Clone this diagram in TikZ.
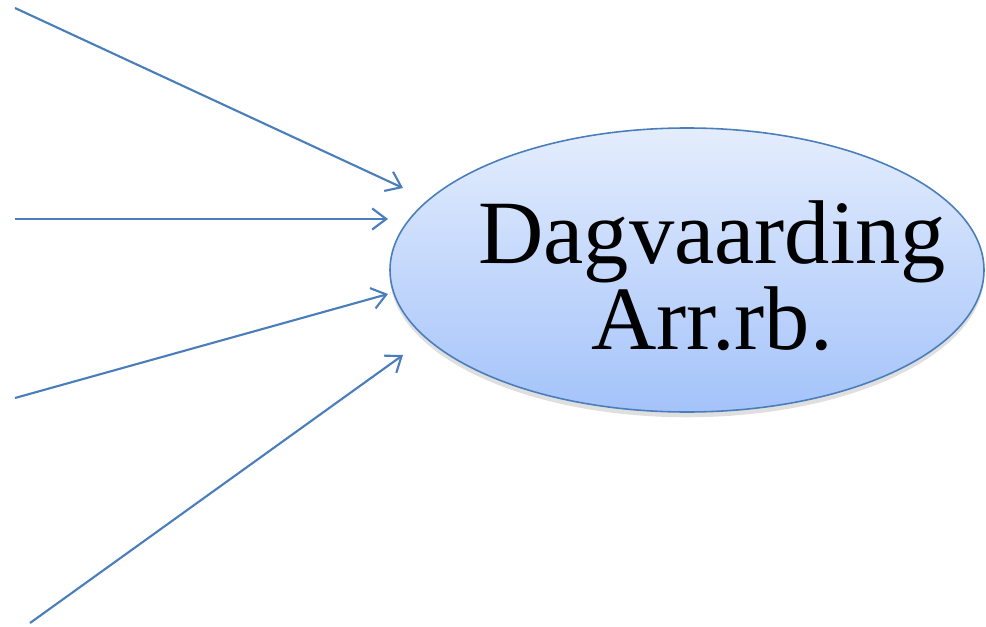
\documentclass[tikz,border=0pt]{standalone}
\usepackage{fontspec}
\setmainfont{Liberation Serif}
\usepackage{tikz}
\usetikzlibrary{arrows.meta,positioning,shapes,shadows,backgrounds}

\definecolor{lijnblauw}{HTML}{4A7EBB}
\definecolor{vultop}{HTML}{E4EDFD}
\definecolor{vulbodem}{HTML}{A4C3FA}

\begin{document}
\begin{tikzpicture}%[x=0.02cm]
		\tikzset{pijl/.style={draw=lijnblauw,line width=1.2pt,-{Straight Barb[length=8pt,width=12pt,line width=1.2pt]}}}
		\tikzset{procesbol/.style={ellipse,draw=lijnblauw,line width=0.9pt,top color=vultop,bottom color=vulbodem,
				minimum width=11.88cm,minimum height=5.68cm,
				drop shadow={opacity=0.25,shadow xshift=0pt,shadow yshift=-3pt}}}
		\useasboundingbox (0,0) rectangle (19.72,12.52);
		\node[procesbol] (dagv) at (13.74,7.12) {};
		\node[align=center,font=\fontsize{51.5}{49}\selectfont] (dagvtekst) at (14.24,7.0) {Dagvaarding\\Arr.rb.};
		% begin- en eindpunten van de pijlen
		\coordinate (bron1) at (0.30,12.36);
		\coordinate (bron2) at (0.30,8.14);
		\coordinate (bron3) at (0.30,4.56);
		\coordinate (bron4) at (0.60,0.06);
		\coordinate (doel1) at (8.06,8.76);
		\coordinate (doel2) at (7.76,8.14);
		\coordinate (doel3) at (7.76,6.64);
		\coordinate (doel4) at (8.06,5.42);
		\foreach \i in {1,...,4}
			\draw[pijl] (bron\i) -- (doel\i);
	\end{tikzpicture}
\end{document}
